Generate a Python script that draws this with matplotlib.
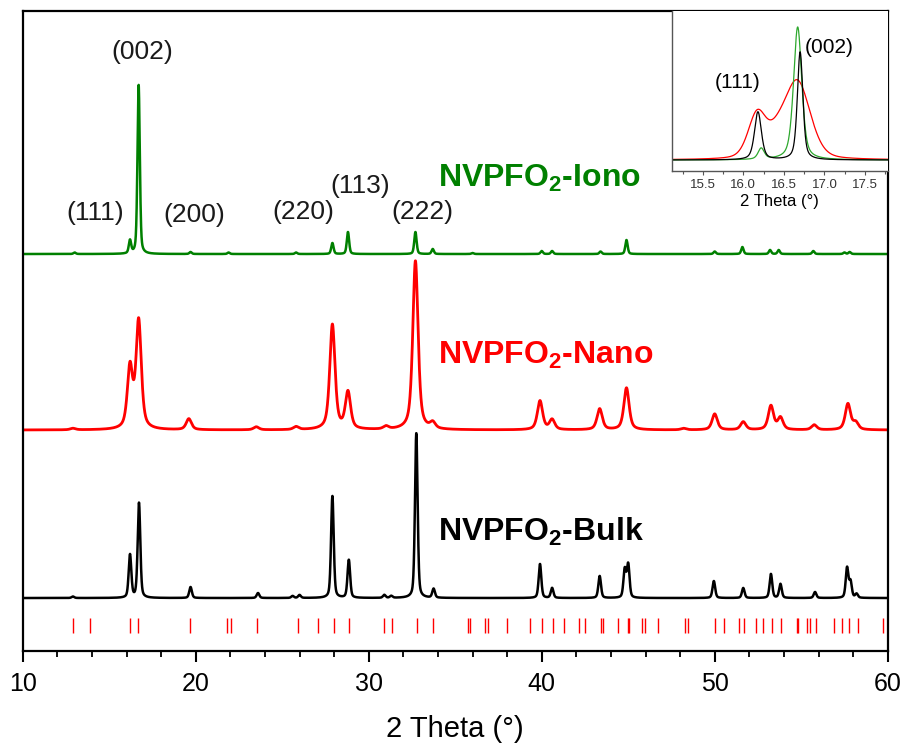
import numpy as np
import matplotlib
matplotlib.use("Agg")
import matplotlib.pyplot as plt
from matplotlib.ticker import MultipleLocator

plt.rcParams['font.family'] = ['Liberation Sans', 'DejaVu Sans']
plt.rcParams['mathtext.fontset'] = 'custom'
plt.rcParams['mathtext.rm'] = 'Liberation Sans'
plt.rcParams['mathtext.bf'] = 'Liberation Sans:bold'

# ============================== Data =================
# peak positions (2 theta), heights (a.u.) and FWHM of each pattern
iono_pos = [13.0, 16.2, 16.7, 19.7, 21.9, 25.8, 27.9, 28.8, 32.7, 33.7, 36.0,
            40.0, 40.6, 43.4, 44.9, 50.0, 51.6, 53.2, 53.7, 55.7, 57.5, 57.8]
iono_h = [1.5, 13, 169, 2, 1.5, 1.5, 11, 22, 22, 5, 1, 3, 3, 2.5, 14, 2.5, 7,
          4, 4, 3, 1.5, 2]
iono_w = 0.16

nano_pos = [12.9, 16.2, 16.7, 19.6, 23.5, 25.8, 27.9, 28.8, 31.0, 32.7, 33.7,
            39.9, 40.6, 43.35, 44.9, 48.2, 50.0, 51.65, 53.25, 53.8, 55.75,
            57.7, 58.15]
nano_h = [1.5, 61, 108, 11, 3, 3, 105, 37, 3, 169, 6, 29, 10, 21, 42, 1.5, 16,
          8, 24, 12, 5, 26, 7]
nano_w = 0.36

bulk_pos = [12.9, 16.2, 16.72, 19.7, 23.6, 25.6, 26.0, 27.9, 28.85, 30.9, 31.3,
            32.75, 33.75, 39.9, 40.6, 43.35, 44.8, 45.0, 49.95, 51.65, 53.25,
            53.8, 55.8, 57.65, 57.85, 58.2]
bulk_h = [1.5, 43, 95, 11, 5, 2, 3, 102, 38, 3, 2, 165, 9, 34, 10, 22, 28, 33,
          17, 10, 24, 14, 6, 30, 16, 4]
bulk_w = 0.18

# vertical offsets of the three patterns
offsets = {'bulk': 53, 'nano': 221, 'iono': 397}

# reference reflections (red bars)
refl = [12.89, 13.89, 16.21, 16.67, 19.67, 21.83, 22.02, 23.56, 25.89, 27.09,
        27.99, 28.88, 30.9, 31.33, 32.78, 33.73, 35.76, 35.86, 36.72, 36.88,
        37.98, 39.34, 40.0, 40.64, 41.27, 42.14, 42.5, 43.41, 43.56, 44.43,
        44.97, 45.03, 45.81, 45.97, 46.74, 48.28, 48.47, 50.02, 50.55, 51.39,
        51.69, 52.39, 52.77, 53.29, 53.83, 54.74, 54.83, 55.35, 55.51, 55.84,
        56.9, 57.38, 57.78, 58.3, 59.74]

# (hkl) labels: text, x, y
hkl_txt = ['(002)', '(111)', '(200)', '(220)', '(113)', '(222)']
hkl_x = [16.9, 14.18, 19.9, 26.2, 29.5, 33.1]
hkl_y = [599, 438, 436, 439, 465, 439]

# inset (zoom of 15-18 deg) peaks
ins_iono_pos, ins_iono_h, ins_iono_w = [16.22, 16.67], [11, 133], [0.09, 0.12]
ins_bulk_pos, ins_bulk_h, ins_bulk_w = [16.18, 16.7], [48, 108], [0.1, 0.08]
ins_nano_pos = [16.17, 16.42, 16.67]
ins_nano_h = [44, 18, 76]
ins_nano_w = [0.26, 0.3, 0.37]


# ============================== Functions ====================================
def pattern(x, pos, h, w, eta=0.5):
    y = np.zeros_like(x)
    w = np.broadcast_to(w, np.shape(pos))
    for p, a, f in zip(pos, h, w):
        lor = 1.0 / (1.0 + (2 * (x - p) / f) ** 2)
        gau = np.exp(-4 * np.log(2) * ((x - p) / f) ** 2)
        y += a * (eta * lor + (1 - eta) * gau)
    return y


# ============================== Main plot ====================================
fig = plt.figure(figsize=(9.06, 7.49), dpi=100)
ax = fig.add_axes([0.0251, 0.1308, 0.9547, 0.8545])

x = np.linspace(10, 60, 6000)
ax.plot(x, offsets['bulk'] + pattern(x, bulk_pos, bulk_h, bulk_w, 0.4),
        color='black', lw=1.8)
ax.plot(x, offsets['nano'] + pattern(x, nano_pos, nano_h, nano_w, 0.6),
        color='#ff0000', lw=2.0)
ax.plot(x, offsets['iono'] + pattern(x, iono_pos, iono_h, iono_w, 0.4),
        color='#008000', lw=1.8)

ax.vlines(refl, 18, 33, color='#ff0000', lw=1.0)

for t, xx, yy in zip(hkl_txt, hkl_x, hkl_y):
    ax.text(xx, yy, t, fontsize=19, ha='center', va='center', color='#1a1a1a')

ax.text(34.0, 464, r'NVPFO$_\mathbf{2}$-Iono', fontsize=23, fontweight='bold',
        color='#008000', va='baseline')
ax.text(34.0, 287, r'NVPFO$_\mathbf{2}$-Nano', fontsize=23, fontweight='bold',
        color='#ff0000', va='baseline')
ax.text(34.0, 110, r'NVPFO$_\mathbf{2}$-Bulk', fontsize=23, fontweight='bold',
        color='black', va='baseline')

ax.set_xlim(10, 60)
ax.set_ylim(0, 640)
ax.set_yticks([])
ax.xaxis.set_major_locator(MultipleLocator(10))
ax.xaxis.set_minor_locator(MultipleLocator(2))
ax.tick_params(axis='x', which='major', direction='out', length=8, width=1.5,
               labelsize=18, pad=7)
ax.tick_params(axis='x', which='minor', direction='out', length=4.5, width=1.3)
for s in ax.spines.values():
    s.set_linewidth(1.6)
ax.set_xlabel('2 Theta (°)', fontsize=21, labelpad=14)

# ============================== Inset ========================================
ins = fig.add_axes([0.7417, 0.7717, 0.2381, 0.2136])
xi = np.linspace(15.12, 17.78, 1500)
ins.plot(xi, pattern(xi, ins_nano_pos, ins_nano_h, ins_nano_w, 0.3),
         color='#ff0000', lw=0.9)
ins.plot(xi, pattern(xi, ins_iono_pos, ins_iono_h, ins_iono_w, 0.5),
         color='#2ea82e', lw=0.9)
ins.plot(xi, pattern(xi, ins_bulk_pos, ins_bulk_h, ins_bulk_w, 0.5),
         color='black', lw=0.9)
ins.text(15.93, 78, '(111)', fontsize=15, ha='center', va='center')
ins.text(17.06, 113, '(002)', fontsize=15, ha='center', va='center')
ins.set_xlim(15.12, 17.78)
ins.set_ylim(-11, 149)
ins.set_yticks([])
ins.xaxis.set_major_locator(MultipleLocator(0.5))
ins.xaxis.set_minor_locator(MultipleLocator(0.25))
ins.tick_params(axis='x', which='major', length=3, width=0.8, labelsize=9.5,
                labelcolor='#333333', color='#555555', pad=3)
ins.tick_params(axis='x', which='minor', length=2, width=0.8, color='#555555')
ins.set_xlabel('2 Theta (°)', fontsize=12, labelpad=2)
for s in ['left', 'bottom']:
    ins.spines[s].set_color('#555555')
    ins.spines[s].set_linewidth(1.0)
ins.spines['top'].set_visible(False)
ins.spines['right'].set_visible(False)

fig.savefig('out.png', dpi=100)
